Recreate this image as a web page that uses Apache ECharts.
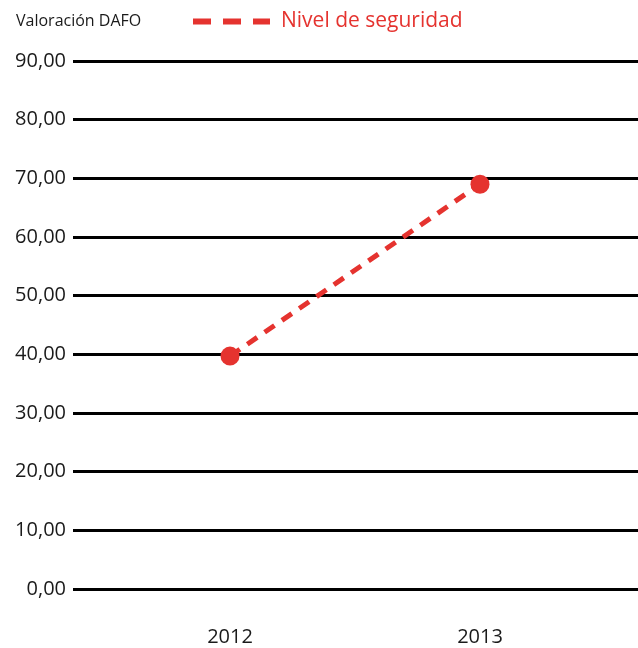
<!DOCTYPE html>
<html>
<head>
<meta charset="utf-8">
<script src="https://cdn.jsdelivr.net/npm/echarts@6/dist/echarts.min.js"></script>
<style>
  html, body { margin: 0; padding: 0; background: #fff; }
  #chart { width: 638px; height: 648px; }
</style>
</head>
<body>
<div id="chart"></div>
<script>
// datos
var years = [2012, 2013];
var seguridad = [39.7, 69.0];
var yTicks = [0, 10, 20, 30, 40, 50, 60, 70, 80, 90];

var rojo = '#E5332F';
var fuente = 'Open Sans';

var chart = echarts.init(document.getElementById('chart'));

var option = {
    backgroundColor: '#fff',
    animation: false,
    title: {
        text: 'Valoración DAFO',
        left: 11,
        top: 8,
        textStyle: {
            fontFamily: fuente,
            fontSize: 16,
            fontWeight: 'normal',
            color: '#1a1a1a'
        }
    },
    legend: {
        left: 188,
        top: 6,
        itemWidth: 77,
        itemHeight: 6,
        itemGap: 10,
        icon: 'path://M0,0h18v6h-18z M30,0h18v6h-18z M60,0h17v6h-17z',
        textStyle: {
            fontFamily: fuente,
            fontSize: 21,
            color: rojo,
            padding: [0, 0, 0, 6]
        },
        data: ['Nivel de seguridad']
    },
    grid: {
        left: 73,
        right: 0,
        top: 61,
        bottom: 59
    },
    xAxis: {
        type: 'value',
        min: 2011.372,
        max: 2013.632,
        axisLine: { show: false },
        axisTick: { show: false },
        splitLine: { show: false },
        axisLabel: {
            customValues: years,
            margin: 38,
            fontFamily: fuente,
            fontSize: 20,
            color: '#1a1a1a',
            formatter: function (v) { return String(v); }
        }
    },
    yAxis: {
        type: 'value',
        min: yTicks[0],
        max: yTicks[yTicks.length - 1],
        interval: 10,
        axisLine: { show: false },
        axisTick: { show: false },
        axisLabel: {
            margin: 7,
            fontFamily: fuente,
            fontSize: 20,
            fontWeight: 500,
            color: '#1a1a1a',
            formatter: function (v) { return v.toFixed(2).replace('.', ','); }
        },
        splitLine: {
            lineStyle: { color: '#000', width: 3 }
        }
    },
    series: [{
        name: 'Nivel de seguridad',
        type: 'line',
        data: years.map(function (y, i) { return [y, seguridad[i]]; }),
        symbol: 'circle',
        symbolSize: 19,
        itemStyle: { color: rojo },
        lineStyle: {
            color: rojo,
            width: 5,
            type: [12, 9]
        }
    }]
};

chart.setOption(option);
</script>
</body>
</html>
